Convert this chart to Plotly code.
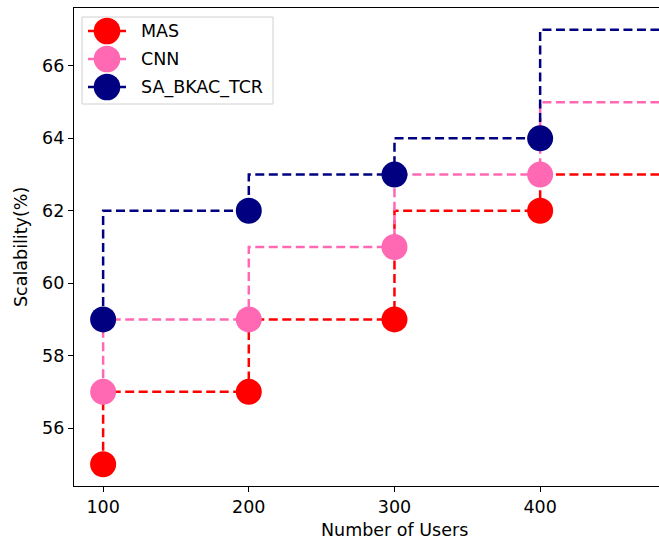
import plotly.graph_objects as go

# ---- data ----
users = [100, 200, 300, 400, 500]
series_names = ["MAS", "CNN", "SA_BKAC_TCR"]
mas = [55, 57, 59, 62, 63]
cnn = [57, 59, 61, 63, 65]
sa_bkac_tcr = [59, 62, 63, 64, 67]
series_values = [mas, cnn, sa_bkac_tcr]
colors = ["#ff0000", "#ff69b4", "#000080"]
x_ticks = [100, 200, 300, 400]
y_ticks = [56, 58, 60, 62, 64, 66]
x_title = "Number of Users"
y_title = "Scalability(%)"

W, H = 659, 542
ML, MT, MB = 74, 8, 56
PW = W - ML
PH = H - MT - MB
FONT = "DejaVu Sans, Liberation Sans, sans-serif"
FS = 17.5

def px2paper_x(px):
    return (px - ML) / PW

def px2paper_y(py):
    return 1 - (py - MT) / PH

fig = go.Figure()
for name, vals, col in zip(series_names, series_values, colors):
    fig.add_trace(go.Scatter(
        x=users, y=vals, name=name, mode="lines+markers",
        line=dict(color=col, width=2.5, dash="9px,4.5px", shape="vh"),
        marker=dict(color=col, size=26, line=dict(width=0)),
        showlegend=False,
    ))

# manual legend (to match large legend markers)
shapes = []
annotations = []
shapes.append(dict(type="rect", xref="paper", yref="paper",
                   x0=px2paper_x(82), x1=px2paper_x(273),
                   y0=px2paper_y(104), y1=px2paper_y(17),
                   line=dict(color="#d0d0d0", width=1),
                   fillcolor="rgba(255,255,255,0.8)", layer="above"))
entry_y = [31, 59, 87]
for name, col, ey in zip(series_names, colors, entry_y):
    yp = px2paper_y(ey)
    shapes.append(dict(type="line", xref="paper", yref="paper",
                       xsizemode="pixel", ysizemode="pixel",
                       xanchor=px2paper_x(107), yanchor=yp,
                       x0=-19, x1=19, y0=0, y1=0,
                       line=dict(color=col, width=2.5), layer="above"))
    shapes.append(dict(type="circle", xref="paper", yref="paper",
                       xsizemode="pixel", ysizemode="pixel",
                       xanchor=px2paper_x(107), yanchor=yp,
                       x0=-13.3, x1=13.3, y0=-13.3, y1=13.3,
                       line=dict(color=col, width=0), fillcolor=col, layer="above"))
    annotations.append(dict(text=name, xref="paper", yref="paper",
                            x=px2paper_x(139), y=yp, xanchor="left", yanchor="middle",
                            showarrow=False, font=dict(family=FONT, size=FS, color="#000")))

# axis titles
annotations.append(dict(text=x_title, xref="paper", yref="paper",
                        x=px2paper_x(394), y=px2paper_y(530), xanchor="center", yanchor="middle",
                        showarrow=False, font=dict(family=FONT, size=FS, color="#000")))
annotations.append(dict(text=y_title, xref="paper", yref="paper", textangle=-90,
                        x=px2paper_x(21), y=px2paper_y(247), xanchor="center", yanchor="middle",
                        showarrow=False, font=dict(family=FONT, size=FS, color="#000")))

fig.update_layout(
    width=W, height=H,
    margin=dict(l=ML, r=0, t=MT, b=MB, pad=0),
    paper_bgcolor="white", plot_bgcolor="white",
    font=dict(family=FONT, size=FS, color="#000"),
    shapes=shapes, annotations=annotations,
    showlegend=False,
)
fig.update_xaxes(range=[80, 481.6], tickvals=x_ticks, ticks="outside", ticklen=5,
                 tickwidth=1.2, tickcolor="#000", showline=True, linecolor="#000",
                 linewidth=1.2, mirror=True, showgrid=False, zeroline=False,
                 tickfont=dict(family=FONT, size=FS, color="#000"))
fig.update_yaxes(range=[54.4, 67.6], tickvals=y_ticks, ticks="outside", ticklen=5,
                 tickwidth=1.2, tickcolor="#000", showline=True, linecolor="#000",
                 linewidth=1.2, mirror=False, showgrid=False, zeroline=False,
                 tickfont=dict(family=FONT, size=FS, color="#000"))

fig.write_html("out.html")
